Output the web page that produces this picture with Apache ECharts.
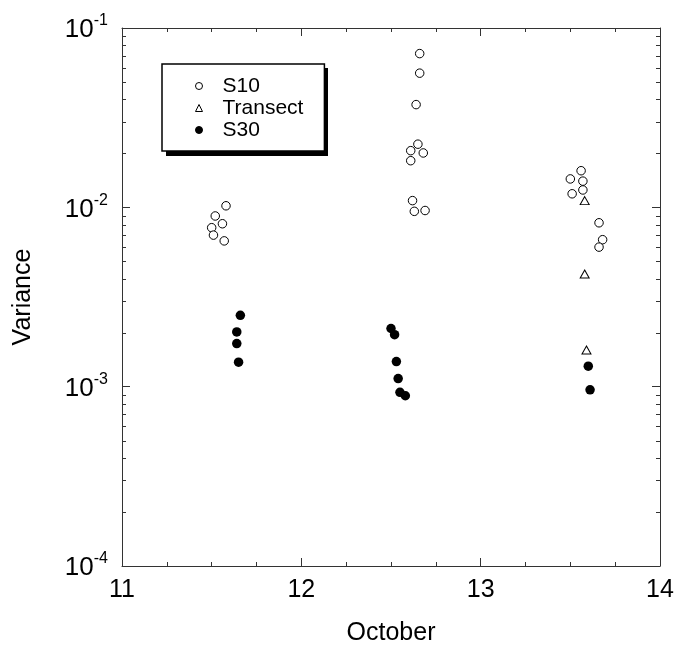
<!DOCTYPE html>
<html>
<head>
<meta charset="utf-8">
<script src="https://cdn.jsdelivr.net/npm/echarts@6/dist/echarts.min.js"></script>
<style>
html,body{margin:0;padding:0;background:#fff;}
#c{width:678px;height:645px;}
</style>
</head>
<body>
<div id="c"></div>
<script>
// ---- data ----
const s10X = [11.58, 11.52, 11.56, 11.50, 11.51, 11.57,
              12.66, 12.66, 12.64, 12.65, 12.61, 12.68, 12.61, 12.62, 12.63, 12.69,
              13.56, 13.50, 13.57, 13.57, 13.51, 13.66, 13.68, 13.66];
const s10Y = [0.0102, 0.00895, 0.0081, 0.0077, 0.0070, 0.0065,
              0.072, 0.056, 0.0374, 0.0225, 0.0207, 0.0201, 0.0182, 0.0109, 0.0095, 0.0096,
              0.0160, 0.0144, 0.0140, 0.0125, 0.0119, 0.0082, 0.0066, 0.0060];
const transectX = [13.58, 13.58, 13.59];
const transectY = [0.0109, 0.00425, 0.0016];
const s30X = [11.66, 11.64, 11.64, 11.65,
              12.50, 12.52, 12.53, 12.54, 12.55, 12.58,
              13.60, 13.61];
const s30Y = [0.0025, 0.00202, 0.00174, 0.00137,
              0.00211, 0.00195, 0.00138, 0.00111, 0.00093, 0.00089,
              0.0013, 0.00096];
const seriesNames = ['S10', 'Transect', 'S30'];
const xTickMin = 11, xTickMax = 14, xTickStep = 1;
const yMin = 1e-4, yMax = 1e-1;
const yMinorTicks = [2e-4, 3e-4, 4e-4, 5e-4, 6e-4, 7e-4, 8e-4, 9e-4,
                     2e-3, 3e-3, 4e-3, 5e-3, 6e-3, 7e-3, 8e-3, 9e-3,
                     2e-2, 3e-2, 4e-2, 5e-2, 6e-2, 7e-2, 8e-2, 9e-2];
const xAxisName = 'October';
const yAxisName = 'Variance';

function zip(a, b) { return a.map((v, i) => [v, b[i]]); }

const FONT = '"Liberation Sans", Arial, Helvetica, sans-serif';
const AX = '#333';

const chart = echarts.init(document.getElementById('c'), null, {renderer: 'canvas'});

const baseX = {
  type: 'value', min: xTickMin, max: xTickMax, interval: xTickStep,
  axisLine: {show: true, lineStyle: {color: AX, width: 1}},
  axisTick: {show: true, inside: true, length: 8, lineStyle: {color: AX}},
  minorTick: {show: true, splitNumber: 4, length: 4, lineStyle: {color: AX}},
  splitLine: {show: false}, minorSplitLine: {show: false}
};
const baseY = {
  type: 'log', logBase: 10, min: yMin, max: yMax,
  axisLine: {show: true, lineStyle: {color: AX, width: 1}},
  axisTick: {show: true, inside: true, length: 8, lineStyle: {color: AX}},
  splitLine: {show: false}, minorTick: {show: false}, minorSplitLine: {show: false}
};

const option = {
  backgroundColor: '#fff',
  animation: false,
  textStyle: {fontFamily: FONT},
  grid: {left: 122, right: 18, top: 28, bottom: 79, containLabel: false, outerBoundsMode: 'none'},
  graphic: [
    {type: 'rect', z: 1, silent: true,
     shape: {x: 166, y: 68, width: 162, height: 88},
     style: {fill: '#000'}}
  ],
  legend: {
    data: seriesNames,
    orient: 'vertical',
    left: 162, top: 64, z: 10,
    padding: [11, 21, 10, 33],
    itemGap: 0,
    itemWidth: 7, itemHeight: 7,
    backgroundColor: '#fff',
    borderColor: '#000', borderWidth: 1.5,
    itemStyle: {borderWidth: 1},
    textStyle: {fontFamily: FONT, fontSize: 21, color: '#000', lineHeight: 22, padding: [0, 0, 0, 15]},
    selectedMode: false
  },
  xAxis: [
    Object.assign({}, baseX, {
      position: 'bottom',
      name: xAxisName, nameLocation: 'middle', nameGap: 55,
      nameTextStyle: {fontFamily: FONT, fontSize: 25, color: '#000'},
      axisLabel: {show: true, margin: 12, fontFamily: FONT, fontSize: 25, color: '#000'}
    }),
    Object.assign({}, baseX, {
      position: 'top',
      axisLabel: {show: false}
    })
  ],
  yAxis: [
    Object.assign({}, baseY, {
      position: 'left',
      name: yAxisName, nameLocation: 'middle', nameGap: 86, nameRotate: 90,
      nameTextStyle: {fontFamily: FONT, fontSize: 25, color: '#000'},
      axisLabel: {
        show: true, margin: 14,
        formatter: function (v) {
          const e = Math.round(Math.log10(v));
          return '{b|10}{s|' + e + '}';
        },
        rich: {
          b: {fontFamily: FONT, fontSize: 26, color: '#000', lineHeight: 30, verticalAlign: 'bottom'},
          s: {fontFamily: FONT, fontSize: 16, color: '#000', lineHeight: 16, verticalAlign: 'top'}
        }
      }
    }),
    Object.assign({}, baseY, {
      position: 'right',
      axisLabel: {show: false}
    })
  ],
  series: [
    {
      name: 'S10', type: 'scatter', xAxisIndex: 0, yAxisIndex: 0,
      symbol: 'circle', symbolSize: 8.5,
      itemStyle: {color: '#fff', borderColor: '#000', borderWidth: 1, opacity: 1},
      data: zip(s10X, s10Y), z: 3
    },
    {
      name: 'Transect', type: 'scatter', xAxisIndex: 0, yAxisIndex: 0,
      symbol: 'triangle', symbolSize: [9, 8],
      itemStyle: {color: '#fff', borderColor: '#000', borderWidth: 1, opacity: 1},
      data: zip(transectX, transectY), z: 3
    },
    {
      name: 'S30', type: 'scatter', xAxisIndex: 0, yAxisIndex: 0,
      symbol: 'circle', symbolSize: 9.5,
      itemStyle: {color: '#000', borderColor: '#000', borderWidth: 0, opacity: 1},
      data: zip(s30X, s30Y), z: 3
    },
    {
      name: 'yMinorTicks', type: 'custom', xAxisIndex: 0, yAxisIndex: 0,
      silent: true, clip: false, z: 1,
      encode: {x: 0, y: 1},
      data: yMinorTicks.map(v => [xTickMin, v]),
      renderItem: function (params, api) {
        const v = api.value(1);
        const pL = api.coord([xTickMin, v]);
        const pR = api.coord([xTickMax, v]);
        const yy = Math.round(pL[1]) + 0.5;
        return {
          type: 'group',
          children: [
            {type: 'line', shape: {x1: pL[0], y1: yy, x2: pL[0] + 4, y2: yy},
             style: {stroke: AX, lineWidth: 1}},
            {type: 'line', shape: {x1: pR[0], y1: yy, x2: pR[0] - 4, y2: yy},
             style: {stroke: AX, lineWidth: 1}}
          ]
        };
      }
    }
  ]
};
chart.setOption(option);
</script>
</body>
</html>
